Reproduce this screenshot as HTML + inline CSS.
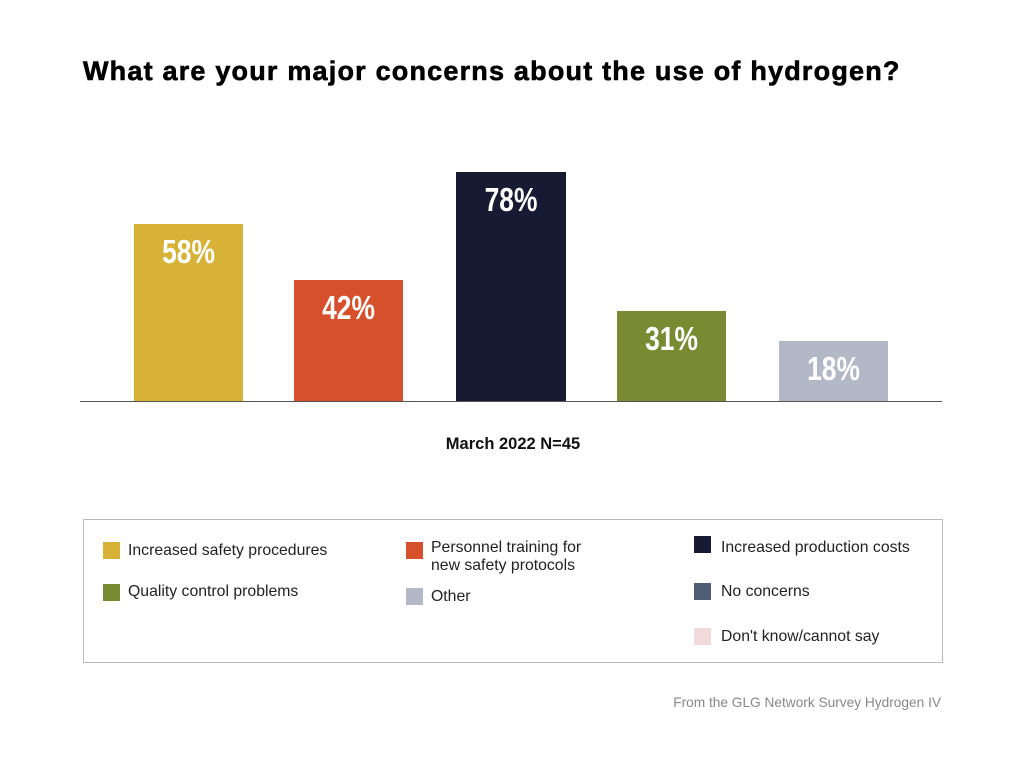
<!DOCTYPE html>
<html><head><meta charset="utf-8"><style>
body{margin:0;width:1024px;height:757px;background:#fff;position:relative;font-family:"Liberation Sans",sans-serif;overflow:hidden}
.a{position:absolute}
.bar{position:absolute;bottom:356px}
.lbl{position:absolute;width:100%;text-align:center;color:#fff;font-weight:bold;font-size:33px;top:9px;transform:scaleX(0.8)}
.sw{position:absolute;width:17px;height:17px}
.lt{position:absolute;font-size:15.8px;color:#222;line-height:18px}
</style></head><body>
<div class="a" style="left:83px;top:56px;font-size:27px;font-weight:900;color:#000;letter-spacing:1.2px;-webkit-text-stroke:0.6px #000">What are your major concerns about the use of hydrogen?</div>
<div class="bar" style="left:134px;width:109px;height:177px;background:#d8b236"><div class="lbl">58%</div></div>
<div class="bar" style="left:294px;width:109px;height:121px;background:#d6502b"><div class="lbl">42%</div></div>
<div class="bar" style="left:456px;width:110px;height:229px;background:#171a33"><div class="lbl">78%</div></div>
<div class="bar" style="left:617px;width:109px;height:90px;background:#7a8a33"><div class="lbl">31%</div></div>
<div class="bar" style="left:779px;width:109px;height:60px;background:#b2b8c5"><div class="lbl">18%</div></div>
<div class="a" style="left:80px;top:401px;width:862px;height:1px;background:#555"></div>
<div class="a" style="left:0;width:1026px;top:435px;text-align:center;font-size:16.5px;font-weight:bold;color:#111">March 2022 N=45</div>
<div class="a" style="left:83px;top:519px;width:858px;height:142px;border:1px solid #bbb"></div>
<div class="sw" style="left:103px;top:542px;background:#d8b236"></div><div class="lt" style="left:128px;top:542px">Increased safety procedures</div>
<div class="sw" style="left:406px;top:542px;background:#d6502b"></div><div class="lt" style="left:431px;top:539px">Personnel training for<br>new safety protocols</div>
<div class="sw" style="left:694px;top:536px;background:#171a33"></div><div class="lt" style="left:721px;top:539px">Increased production costs</div>
<div class="sw" style="left:103px;top:584px;background:#7a8a33"></div><div class="lt" style="left:128px;top:583px">Quality control problems</div>
<div class="sw" style="left:406px;top:588px;background:#b2b8c5"></div><div class="lt" style="left:431px;top:588px">Other</div>
<div class="sw" style="left:694px;top:583px;background:#4f5d75"></div><div class="lt" style="left:721px;top:583px">No concerns</div>
<div class="sw" style="left:694px;top:628px;background:#f2dada"></div><div class="lt" style="left:721px;top:628px">Don't know/cannot say</div>
<div class="a" style="right:83px;top:695px;font-size:13.7px;color:#888">From the GLG Network Survey Hydrogen IV</div>
</body></html>
